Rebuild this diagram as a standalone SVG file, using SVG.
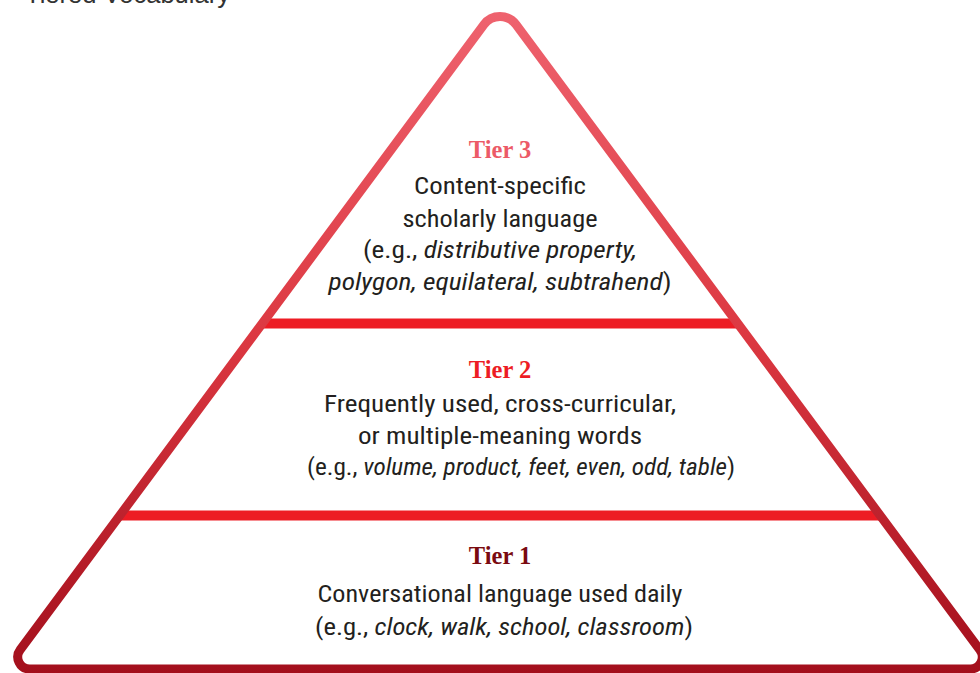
<svg xmlns="http://www.w3.org/2000/svg" width="980" height="673" viewBox="0 0 980 673">
<style>
.body{font-family:"Liberation Sans Narrow","Roboto Condensed","Liberation Sans",Arial,sans-serif;font-size:24px;fill:#231F20;text-anchor:middle}
.tier{font-family:"Liberation Serif","Times New Roman",serif;font-weight:bold;font-size:24.5px;text-anchor:middle}
.it{font-style:italic}
.bar{stroke:#ED1C24;stroke-width:10;fill:none}
</style>
<defs>
<linearGradient id="edge" gradientUnits="userSpaceOnUse" x1="0" y1="0" x2="0" y2="673">
<stop offset="0" stop-color="#EF6470"/>
<stop offset="0.5" stop-color="#DC3841"/>
<stop offset="1" stop-color="#A30F1C"/>
</linearGradient>
</defs>
<rect width="980" height="673" fill="#FFFFFF"/>
<text x="25" y="3" font-family="'Liberation Sans',Arial,sans-serif" font-size="25" fill="#333333" textLength="205" lengthAdjust="spacingAndGlyphs">Tiered Vocabulary</text>
<g id="connectors">
<line class="bar" x1="262" y1="323.5" x2="738" y2="323.5"/>
<line class="bar" x1="120" y1="515.5" x2="880" y2="515.5"/>
</g>
<g id="pyramid">
<path d="M483.9 24.65 A20 20 0 0 1 516.1 24.65 L979.8 649.8 A12 12 0 0 1 970.1 669 L29.9 669 A12 12 0 0 1 20.2 649.8 Z" fill="none" stroke="url(#edge)" stroke-width="9" stroke-linejoin="round"/>
</g>
<g id="tier3">
<text class="tier" x="500" y="158" fill="#EC5A67">Tier 3</text>
<text class="body" x="500" y="194" textLength="172" lengthAdjust="spacingAndGlyphs">Content-specific</text>
<text class="body" x="500" y="226.5" textLength="195" lengthAdjust="spacingAndGlyphs">scholarly language</text>
<text class="body" x="500" y="258" textLength="274" lengthAdjust="spacingAndGlyphs">(e.g., <tspan class="it">distributive property,</tspan></text>
<text class="body" x="500" y="290" textLength="343" lengthAdjust="spacingAndGlyphs"><tspan class="it">polygon, equilateral, subtrahend</tspan>)</text>
</g>
<g id="tier2">
<text class="tier" x="500" y="378" fill="#ED1C24">Tier 2</text>
<text class="body" x="500" y="412" textLength="352" lengthAdjust="spacingAndGlyphs">Frequently used, cross-curricular,</text>
<text class="body" x="500" y="443.5" textLength="284" lengthAdjust="spacingAndGlyphs">or multiple-meaning words</text>
<text class="body" x="521" y="475" textLength="428" lengthAdjust="spacingAndGlyphs">(e.g., <tspan class="it">volume, product, feet, even, odd, table</tspan>)</text>
</g>
<g id="tier1">
<text class="tier" x="500" y="564" fill="#7A0A10">Tier 1</text>
<text class="body" x="500" y="601.5" textLength="365" lengthAdjust="spacingAndGlyphs">Conversational language used daily</text>
<text class="body" x="504" y="635" textLength="378" lengthAdjust="spacingAndGlyphs">(e.g., <tspan class="it">clock, walk, school, classroom</tspan>)</text>
</g>
</svg>
